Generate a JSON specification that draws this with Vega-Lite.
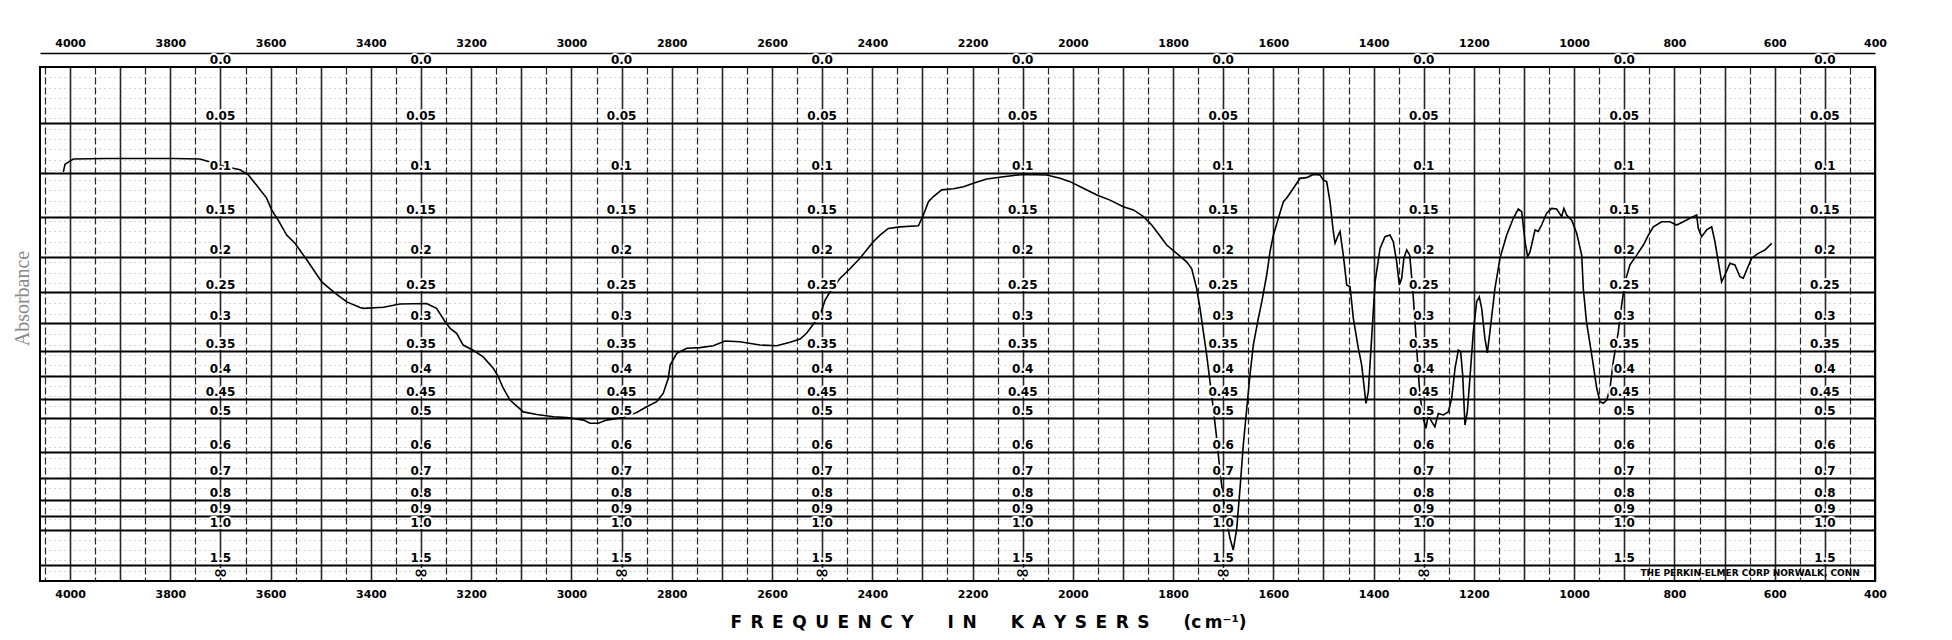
{
  "$schema": "https://vega.github.io/schema/vega-lite/v6.json",
  "width": 1835,
  "height": 514,
  "autosize": "none",
  "padding": {"left": 40, "top": 67, "right": 77, "bottom": 59},
  "background": "white",
  "config": {
    "view": {"stroke": "black", "strokeWidth": 2},
    "axis": {"labelFont": "DejaVu Sans", "labelFontWeight": "bold", "labelFontSize": 11, "labelColor": "black"}
  },
  "datasets": {
    "spectrum": [
      {"cm": 4013.5, "T": 0.796}, {"cm": 4010, "T": 0.811}, {"cm": 3993.5, "T": 0.821}, {"cm": 3927, "T": 0.822},
      {"cm": 3860.5, "T": 0.822}, {"cm": 3794, "T": 0.822}, {"cm": 3741, "T": 0.821}, {"cm": 3724, "T": 0.816},
      {"cm": 3694, "T": 0.807}, {"cm": 3661, "T": 0.8}, {"cm": 3644.5, "T": 0.79}, {"cm": 3628, "T": 0.77},
      {"cm": 3608, "T": 0.745}, {"cm": 3598, "T": 0.722}, {"cm": 3585, "T": 0.702}, {"cm": 3568, "T": 0.673},
      {"cm": 3551.5, "T": 0.657}, {"cm": 3528, "T": 0.625}, {"cm": 3498, "T": 0.582}, {"cm": 3471.6, "T": 0.56},
      {"cm": 3448, "T": 0.543}, {"cm": 3421.7, "T": 0.532}, {"cm": 3415, "T": 0.5305}, {"cm": 3375, "T": 0.5325},
      {"cm": 3342, "T": 0.539}, {"cm": 3289, "T": 0.54}, {"cm": 3269, "T": 0.5305}, {"cm": 3252, "T": 0.5045},
      {"cm": 3242, "T": 0.4916}, {"cm": 3229, "T": 0.4819}, {"cm": 3216, "T": 0.459}, {"cm": 3196, "T": 0.449},
      {"cm": 3176, "T": 0.436}, {"cm": 3156, "T": 0.414}, {"cm": 3146, "T": 0.3975}, {"cm": 3136, "T": 0.375},
      {"cm": 3122.6, "T": 0.352}, {"cm": 3096, "T": 0.329}, {"cm": 3069, "T": 0.324}, {"cm": 3036, "T": 0.3197},
      {"cm": 3009, "T": 0.318}, {"cm": 2976, "T": 0.313}, {"cm": 2963, "T": 0.307}, {"cm": 2946.5, "T": 0.307},
      {"cm": 2930, "T": 0.313}, {"cm": 2896.6, "T": 0.318}, {"cm": 2870, "T": 0.328}, {"cm": 2850, "T": 0.339},
      {"cm": 2830, "T": 0.349}, {"cm": 2817, "T": 0.365}, {"cm": 2807, "T": 0.394}, {"cm": 2803, "T": 0.42},
      {"cm": 2790, "T": 0.443}, {"cm": 2770, "T": 0.4527}, {"cm": 2743.6, "T": 0.454}, {"cm": 2717, "T": 0.4578},
      {"cm": 2693.7, "T": 0.467}, {"cm": 2664, "T": 0.4656}, {"cm": 2624, "T": 0.459}, {"cm": 2590.6, "T": 0.4578},
      {"cm": 2564, "T": 0.4644}, {"cm": 2544, "T": 0.4708}, {"cm": 2531, "T": 0.4819}, {"cm": 2514, "T": 0.5045},
      {"cm": 2504, "T": 0.5175}, {"cm": 2494, "T": 0.5467}, {"cm": 2484, "T": 0.563}, {"cm": 2464, "T": 0.589},
      {"cm": 2444, "T": 0.608}, {"cm": 2424.5, "T": 0.628}, {"cm": 2398, "T": 0.66}, {"cm": 2384.6, "T": 0.673},
      {"cm": 2368, "T": 0.686}, {"cm": 2345, "T": 0.689}, {"cm": 2308, "T": 0.691}, {"cm": 2298, "T": 0.712},
      {"cm": 2288, "T": 0.738}, {"cm": 2278, "T": 0.748}, {"cm": 2261.5, "T": 0.761}, {"cm": 2238, "T": 0.763},
      {"cm": 2218, "T": 0.767}, {"cm": 2198.5, "T": 0.774}, {"cm": 2171.8, "T": 0.782}, {"cm": 2138.6, "T": 0.7866},
      {"cm": 2098.8, "T": 0.791}, {"cm": 2052, "T": 0.79}, {"cm": 2025.6, "T": 0.7834}, {"cm": 2005.6, "T": 0.777},
      {"cm": 1979, "T": 0.764}, {"cm": 1952, "T": 0.751}, {"cm": 1925.8, "T": 0.741}, {"cm": 1899.3, "T": 0.728},
      {"cm": 1879, "T": 0.722}, {"cm": 1859, "T": 0.709}, {"cm": 1842.7, "T": 0.6926}, {"cm": 1832.7, "T": 0.68},
      {"cm": 1812.8, "T": 0.6537}, {"cm": 1792.8, "T": 0.6375}, {"cm": 1773, "T": 0.621}, {"cm": 1763, "T": 0.608},
      {"cm": 1753, "T": 0.5694}, {"cm": 1746.3, "T": 0.5305}, {"cm": 1739.7, "T": 0.485}, {"cm": 1733, "T": 0.4397},
      {"cm": 1726.4, "T": 0.3878}, {"cm": 1719.8, "T": 0.336}, {"cm": 1713, "T": 0.2776}, {"cm": 1706.4, "T": 0.2127},
      {"cm": 1699.8, "T": 0.161}, {"cm": 1693, "T": 0.1154}, {"cm": 1686.5, "T": 0.083}, {"cm": 1680, "T": 0.0603},
      {"cm": 1673, "T": 0.1025}, {"cm": 1666.5, "T": 0.18}, {"cm": 1660, "T": 0.2646}, {"cm": 1653, "T": 0.336},
      {"cm": 1646.6, "T": 0.4008}, {"cm": 1640, "T": 0.459}, {"cm": 1630, "T": 0.511}, {"cm": 1623, "T": 0.5434},
      {"cm": 1613.3, "T": 0.5953}, {"cm": 1606.7, "T": 0.6407}, {"cm": 1600, "T": 0.673}, {"cm": 1590, "T": 0.7056},
      {"cm": 1580, "T": 0.738}, {"cm": 1573.4, "T": 0.745}, {"cm": 1560, "T": 0.764}, {"cm": 1546.9, "T": 0.7834},
      {"cm": 1533.6, "T": 0.7847}, {"cm": 1520.3, "T": 0.791}, {"cm": 1507, "T": 0.79}, {"cm": 1500.4, "T": 0.78},
      {"cm": 1493.7, "T": 0.777}, {"cm": 1487, "T": 0.738}, {"cm": 1480.5, "T": 0.68}, {"cm": 1477, "T": 0.657},
      {"cm": 1470.5, "T": 0.673}, {"cm": 1467, "T": 0.68}, {"cm": 1460.5, "T": 0.634}, {"cm": 1453.7, "T": 0.576},
      {"cm": 1447, "T": 0.5726}, {"cm": 1440.5, "T": 0.511}, {"cm": 1430.5, "T": 0.4527}, {"cm": 1423.8, "T": 0.42},
      {"cm": 1415.3, "T": 0.3457}, {"cm": 1410.6, "T": 0.368}, {"cm": 1404, "T": 0.472}, {"cm": 1397.1, "T": 0.582},
      {"cm": 1387.2, "T": 0.647}, {"cm": 1377.3, "T": 0.67}, {"cm": 1367.4, "T": 0.673}, {"cm": 1360.8, "T": 0.66},
      {"cm": 1354, "T": 0.621}, {"cm": 1348.8, "T": 0.576}, {"cm": 1344, "T": 0.589}, {"cm": 1339.7, "T": 0.628},
      {"cm": 1334, "T": 0.644}, {"cm": 1328, "T": 0.634}, {"cm": 1322.2, "T": 0.5694}, {"cm": 1317.5, "T": 0.5045},
      {"cm": 1314.6, "T": 0.459}, {"cm": 1311, "T": 0.407}, {"cm": 1307.7, "T": 0.362}, {"cm": 1301, "T": 0.3165},
      {"cm": 1295.6, "T": 0.297}, {"cm": 1291, "T": 0.323}, {"cm": 1284.3, "T": 0.31}, {"cm": 1277.9, "T": 0.3},
      {"cm": 1271, "T": 0.326}, {"cm": 1261, "T": 0.323}, {"cm": 1251, "T": 0.329}, {"cm": 1244.3, "T": 0.3554},
      {"cm": 1237.6, "T": 0.414}, {"cm": 1231, "T": 0.449}, {"cm": 1226.4, "T": 0.446}, {"cm": 1222.4, "T": 0.4008},
      {"cm": 1217.8, "T": 0.3035}, {"cm": 1213.2, "T": 0.329}, {"cm": 1208, "T": 0.394}, {"cm": 1201.2, "T": 0.485},
      {"cm": 1194.5, "T": 0.5434}, {"cm": 1189.3, "T": 0.553}, {"cm": 1184.5, "T": 0.5305}, {"cm": 1178, "T": 0.472},
      {"cm": 1173.3, "T": 0.444}, {"cm": 1168, "T": 0.485}, {"cm": 1158, "T": 0.5694}, {"cm": 1148, "T": 0.628},
      {"cm": 1134.6, "T": 0.673}, {"cm": 1121.4, "T": 0.7056}, {"cm": 1111.5, "T": 0.7237}, {"cm": 1104.7, "T": 0.7185},
      {"cm": 1098, "T": 0.66}, {"cm": 1092.7, "T": 0.631}, {"cm": 1088, "T": 0.6407}, {"cm": 1078, "T": 0.683},
      {"cm": 1071.6, "T": 0.68}, {"cm": 1065, "T": 0.6926}, {"cm": 1055, "T": 0.7154}, {"cm": 1045, "T": 0.725},
      {"cm": 1035, "T": 0.7237}, {"cm": 1025, "T": 0.709}, {"cm": 1020.5, "T": 0.725}, {"cm": 1015, "T": 0.712},
      {"cm": 1005, "T": 0.702}, {"cm": 995, "T": 0.6765}, {"cm": 985, "T": 0.634}, {"cm": 981.8, "T": 0.569},
      {"cm": 975.5, "T": 0.5045}, {"cm": 965, "T": 0.44}, {"cm": 955, "T": 0.375}, {"cm": 948.5, "T": 0.349},
      {"cm": 941.9, "T": 0.3457}, {"cm": 935, "T": 0.352}, {"cm": 928.6, "T": 0.375}, {"cm": 922, "T": 0.4267},
      {"cm": 912, "T": 0.485}, {"cm": 905.3, "T": 0.537}, {"cm": 898.6, "T": 0.582}, {"cm": 888.7, "T": 0.615},
      {"cm": 875.4, "T": 0.634}, {"cm": 862, "T": 0.6537}, {"cm": 852, "T": 0.673}, {"cm": 842, "T": 0.689},
      {"cm": 825.5, "T": 0.699}, {"cm": 809, "T": 0.699}, {"cm": 795.6, "T": 0.6926}, {"cm": 782.4, "T": 0.699},
      {"cm": 769, "T": 0.7056}, {"cm": 755.7, "T": 0.712}, {"cm": 752.5, "T": 0.686}, {"cm": 745.8, "T": 0.67},
      {"cm": 735.8, "T": 0.683}, {"cm": 725.8, "T": 0.689}, {"cm": 719.2, "T": 0.66}, {"cm": 712.6, "T": 0.621},
      {"cm": 705.9, "T": 0.582}, {"cm": 699.3, "T": 0.5953}, {"cm": 689.3, "T": 0.618}, {"cm": 679.4, "T": 0.615},
      {"cm": 669.4, "T": 0.592}, {"cm": 662.7, "T": 0.589}, {"cm": 656, "T": 0.605}, {"cm": 646, "T": 0.628},
      {"cm": 632.7, "T": 0.6375}, {"cm": 619.7, "T": 0.644}, {"cm": 606, "T": 0.657}
    ],
    "absLabels": [
      {"t": "0.0", "T": 1, "cm": [3700, 3300, 2900, 2500, 2100, 1700, 1300, 900, 500]},
      {"t": "0.05", "T": 0.8913, "cm": [3700, 3300, 2900, 2500, 2100, 1700, 1300, 900, 500]},
      {"t": "0.1", "T": 0.7943, "cm": [3700, 3300, 2900, 2500, 2100, 1700, 1300, 900, 500]},
      {"t": "0.15", "T": 0.7079, "cm": [3700, 3300, 2900, 2500, 2100, 1700, 1300, 900, 500]},
      {"t": "0.2", "T": 0.631, "cm": [3700, 3300, 2900, 2500, 2100, 1700, 1300, 900, 500]},
      {"t": "0.25", "T": 0.5623, "cm": [3700, 3300, 2900, 2500, 2100, 1700, 1300, 900, 500]},
      {"t": "0.3", "T": 0.5012, "cm": [3700, 3300, 2900, 2500, 2100, 1700, 1300, 900, 500]},
      {"t": "0.35", "T": 0.4467, "cm": [3700, 3300, 2900, 2500, 2100, 1700, 1300, 900, 500]},
      {"t": "0.4", "T": 0.3981, "cm": [3700, 3300, 2900, 2500, 2100, 1700, 1300, 900, 500]},
      {"t": "0.45", "T": 0.3548, "cm": [3700, 3300, 2900, 2500, 2100, 1700, 1300, 900, 500]},
      {"t": "0.5", "T": 0.3162, "cm": [3700, 3300, 2900, 2500, 2100, 1700, 1300, 900, 500]},
      {"t": "0.6", "T": 0.2512, "cm": [3700, 3300, 2900, 2500, 2100, 1700, 1300, 900, 500]},
      {"t": "0.7", "T": 0.1995, "cm": [3700, 3300, 2900, 2500, 2100, 1700, 1300, 900, 500]},
      {"t": "0.8", "T": 0.1585, "cm": [3700, 3300, 2900, 2500, 2100, 1700, 1300, 900, 500]},
      {"t": "0.9", "T": 0.1259, "cm": [3700, 3300, 2900, 2500, 2100, 1700, 1300, 900, 500]},
      {"t": "1.0", "T": 0.1, "cm": [3700, 3300, 2900, 2500, 2100, 1700, 1300, 900, 500]},
      {"t": "1.5", "T": 0.0316, "cm": [3700, 3300, 2900, 2500, 2100, 1700, 1300, 900, 500]},
      {"t": "∞", "T": 0, "cm": [3700, 3300, 2900, 2500, 2100, 1700, 1300]}
    ],
    "maker": [
      {"t": "THE PERKIN-ELMER CORP NORWALK, CONN", "cm": 649, "T": 0.016}
    ]
  },
  "resolve": {"axis": {"x": "independent", "y": "independent"}},
  "layer": [
    {
      "data": {"name": "spectrum"},
      "mark": {"type": "line", "stroke": "black", "strokeWidth": 1.6, "interpolate": "linear"},
      "encoding": {
        "x": {
          "field": "cm", "type": "quantitative",
          "scale": {"domain": [4060, 400], "nice": false, "zero": false},
          "axis": {
            "orient": "bottom",
            "values": [4050, 4000, 3950, 3900, 3850, 3800, 3750, 3700, 3650, 3600, 3550, 3500, 3450, 3400, 3350, 3300, 3250, 3200, 3150, 3100, 3050, 3000, 2950, 2900, 2850, 2800, 2750, 2700, 2650, 2600, 2550, 2500, 2450, 2400, 2350, 2300, 2250, 2200, 2150, 2100, 2050, 2000, 1950, 1900, 1850, 1800, 1750, 1700, 1650, 1600, 1550, 1500, 1450, 1400, 1350, 1300, 1250, 1200, 1150, 1100, 1050, 1000, 950, 900, 850, 800, 750, 700, 650, 600, 550, 500, 450, 400],
            "format": "d",
            "labelExpr": "datum.value % 200 === 0 ? datum.label : ''",
            "labelOverlap": false,
            "labelFlush": false,
            "labelBound": false,
            "labelPadding": 7,
            "ticks": false,
            "tickSize": 0,
            "domain": false,
            "grid": true,
            "gridColor": "black",
            "gridOpacity": 0.85,
            "gridWidth": {"condition": {"test": "datum.value % 100 === 0", "value": 1.6}, "value": 1.2},
            "gridDash": {"condition": {"test": "datum.value % 100 === 0", "value": []}, "value": [7, 3]},
            "title": "F\u2002R\u2002E\u2002Q\u2002U\u2002E\u2002N\u2002C\u2002Y\u2002\u2002\u2002\u2002I\u2002N\u2002\u2002\u2002\u2002K\u2002A\u2002Y\u2002S\u2002E\u2002R\u2002S\u2002\u2002\u2002\u2002(c\u2009m\u207b\u00b9)",
            "titleFont": "DejaVu Sans",
            "titleFontWeight": "bold",
            "titleFontSize": 17,
            "titleColor": "black",
            "titleX": 948,
            "titleY": 41,
            "titleAlign": "center",
            "titleBaseline": "middle",
            "titleAnchor": null
          }
        },
        "y": {
          "field": "T", "type": "quantitative",
          "scale": {"domain": [0, 1], "nice": false, "zero": false},
          "axis": {
            "orient": "left",
            "values": [0.8913, 0.7943, 0.7079, 0.631, 0.5623, 0.5012, 0.4467, 0.3981, 0.3548, 0.3162, 0.2512, 0.1995, 0.1585, 0.1259, 0.1, 0.0316],
            "labels": false,
            "ticks": false,
            "domain": false,
            "grid": true,
            "gridColor": "black",
            "gridWidth": 2,
            "title": "Absorbance",
            "titleFont": "Liberation Serif",
            "titleFontWeight": "normal",
            "titleFontSize": 20,
            "titleColor": "#8a8a8a",
            "titleX": -18,
            "titleY": 231,
            "titleAngle": -90,
            "titleAlign": "center",
            "titleBaseline": "middle"
          }
        }
      }
    },
    {
      "data": {"name": "absLabels"},
      "transform": [{"flatten": ["cm"]}],
      "mark": {"type": "text", "font": "DejaVu Sans", "fontWeight": "bold", "align": "center", "baseline": "alphabetic", "dy": -3, "fill": "white", "stroke": "white", "strokeWidth": 4, "strokeJoin": "round"},
      "encoding": {
        "x": {
          "field": "cm", "type": "quantitative",
          "scale": {"domain": [4060, 400], "nice": false, "zero": false},
          "axis": {
            "orient": "top",
            "values": [4000, 3800, 3600, 3400, 3200, 3000, 2800, 2600, 2400, 2200, 2000, 1800, 1600, 1400, 1200, 1000, 800, 600, 400],
            "format": "d",
            "labelOverlap": false,
            "labelFlush": false,
            "labelBound": false,
            "labelPadding": 5,
            "ticks": false,
            "tickSize": 0,
            "offset": 14,
            "domain": true,
            "domainColor": "black",
            "domainWidth": 1.5,
            "grid": false,
            "title": null
          }
        },
        "y": {
          "field": "T", "type": "quantitative",
          "scale": {"domain": [0, 1], "nice": false, "zero": false},
          "axis": {
            "orient": "right",
            "values": [0.02, 0.04, 0.06, 0.08, 0.1, 0.12, 0.14, 0.16, 0.18, 0.2, 0.22, 0.24, 0.26, 0.28, 0.3, 0.32, 0.34, 0.36, 0.38, 0.4, 0.42, 0.44, 0.46, 0.48, 0.5, 0.52, 0.54, 0.56, 0.58, 0.6, 0.62, 0.64, 0.66, 0.68, 0.7, 0.72, 0.74, 0.76, 0.78, 0.8, 0.82, 0.84, 0.86, 0.88, 0.9, 0.92, 0.94, 0.96, 0.98],
            "labels": false,
            "ticks": false,
            "domain": false,
            "grid": true,
            "gridColor": "#444444",
            "gridWidth": 1,
            "gridDash": [1, 4],
            "gridOpacity": 0.45,
            "title": null
          }
        },
        "text": {"field": "t", "type": "nominal"},
        "size": {"condition": {"test": "datum.t === '∞'", "value": 17}, "value": 12}
      }
    },
    {
      "data": {"name": "absLabels"},
      "transform": [{"flatten": ["cm"]}],
      "mark": {"type": "text", "font": "DejaVu Sans", "fontWeight": "bold", "align": "center", "baseline": "alphabetic", "dy": -3, "fill": "black"},
      "encoding": {
        "x": {"field": "cm", "type": "quantitative", "axis": null},
        "y": {"field": "T", "type": "quantitative", "axis": null},
        "text": {"field": "t", "type": "nominal"},
        "size": {"condition": {"test": "datum.t === '∞'", "value": 17}, "value": 12}
      }
    },
    {
      "data": {"name": "maker"},
      "mark": {"type": "text", "font": "DejaVu Sans", "fontWeight": "bold", "fontSize": 9, "align": "center", "baseline": "middle", "fill": "black"},
      "encoding": {
        "x": {"field": "cm", "type": "quantitative", "axis": null},
        "y": {"field": "T", "type": "quantitative", "axis": null},
        "text": {"field": "t", "type": "nominal"}
      }
    }
  ]
}
